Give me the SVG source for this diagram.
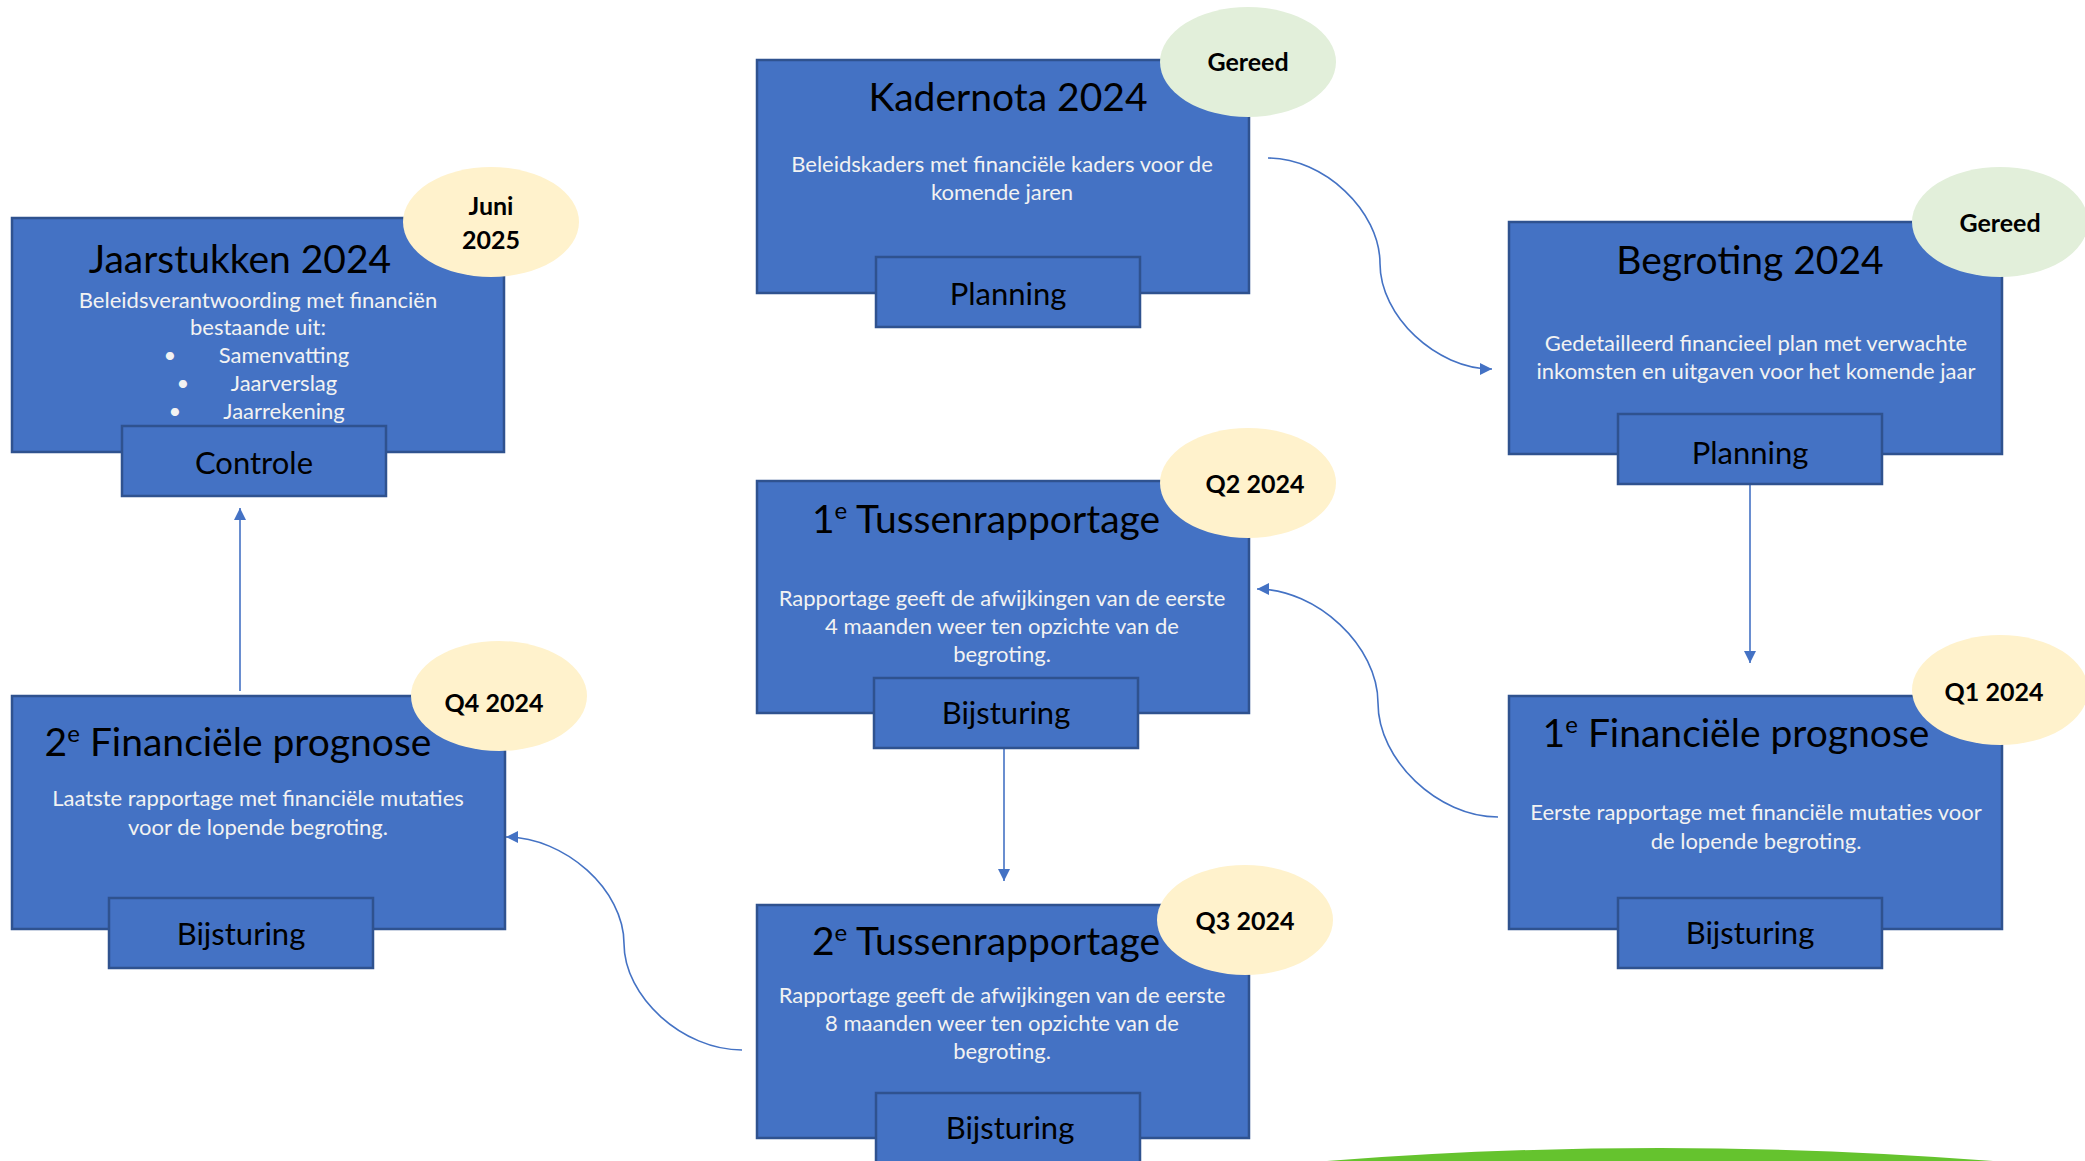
<svg xmlns="http://www.w3.org/2000/svg" width="2085" height="1161" viewBox="0 0 2085 1161">
<style>
.box{fill:#4472C4;stroke:#2F528F;stroke-width:2.5}
.sub{fill:#4472C4;stroke:#2F528F;stroke-width:2.5}
.green{fill:#E2EFDA}
.yellow{fill:#FFF2CC}
.title{font-family:Lato,"Liberation Sans",sans-serif;font-size:39px;fill:#000;text-anchor:middle}
.desc{font-family:Lato,"Liberation Sans",sans-serif;font-size:22px;fill:#F2F2F2;text-anchor:middle}
.lbl{font-family:Lato,"Liberation Sans",sans-serif;font-size:31px;fill:#000;text-anchor:middle}
.badge{font-family:Lato,"Liberation Sans",sans-serif;font-size:25px;font-weight:bold;fill:#000;text-anchor:middle}
.conn{fill:none;stroke:#4472C4;stroke-width:1.6}
</style>
<defs>
<marker id="arr" viewBox="0 0 10 10" refX="10" refY="5" markerWidth="12" markerHeight="12" markerUnits="userSpaceOnUse" orient="auto">
<path d="M0,0 L10,5 L0,10 z" fill="#4472C4"/>
</marker>
</defs>
<rect width="2085" height="1161" fill="#fff"/>

<g id="connectors">
<path class="conn" d="M1268,158 C1324,158 1380,211 1380,263.5 C1380,316 1436,369 1492,369" marker-end="url(#arr)"/>
<path class="conn" d="M1750,485 L1750,663" marker-end="url(#arr)"/>
<path class="conn" d="M1498,817 C1438,817 1378,760 1378,703 C1378,646 1317,589 1257,589" marker-end="url(#arr)"/>
<path class="conn" d="M1004,748 L1004,881" marker-end="url(#arr)"/>
<path class="conn" d="M742,1050 C683,1050 624,997 624,943.5 C624,890 565,837 506,837" marker-end="url(#arr)"/>
<path class="conn" d="M240,691 L240,508" marker-end="url(#arr)"/>
</g>

<g id="kadernota">
<rect class="box" x="757" y="60" width="492" height="233"/>
<text class="title" x="1008" y="111">Kadernota 2024</text>
<text class="desc" x="1002" y="172">Beleidskaders met financiële kaders voor de</text>
<text class="desc" x="1002" y="200">komende jaren</text>
<rect class="sub" x="876" y="257" width="264" height="70"/>
<text class="lbl" x="1008" y="305">Planning</text>
<ellipse class="green" cx="1248" cy="62" rx="88" ry="55"/>
<text class="badge" x="1248" y="71">Gereed</text>
</g>

<g id="begroting">
<rect class="box" x="1509" y="222" width="493" height="232"/>
<text class="title" x="1750" y="274">Begroting 2024</text>
<text class="desc" x="1756" y="351">Gedetailleerd financieel plan met verwachte</text>
<text class="desc" x="1756" y="379">inkomsten en uitgaven voor het komende jaar</text>
<rect class="sub" x="1618" y="414" width="264" height="70"/>
<text class="lbl" x="1750" y="464">Planning</text>
<ellipse class="green" cx="2000" cy="222" rx="88" ry="55"/>
<text class="badge" x="2000" y="232">Gereed</text>
</g>

<g id="jaarstukken">
<rect class="box" x="12" y="218" width="492" height="234"/>
<text class="title" x="240" y="273">Jaarstukken 2024</text>
<text class="desc" x="258" y="308">Beleidsverantwoording met financiën</text>
<text class="desc" x="258" y="335">bestaande uit:</text>
<text class="desc" x="170" y="363">•</text>
<text class="desc" x="284" y="363">Samenvatting</text>
<text class="desc" x="183" y="391">•</text>
<text class="desc" x="284" y="391">Jaarverslag</text>
<text class="desc" x="175" y="419">•</text>
<text class="desc" x="284" y="419">Jaarrekening</text>
<rect class="sub" x="122" y="426" width="264" height="70"/>
<text class="lbl" x="254" y="474">Controle</text>
<ellipse class="yellow" cx="491" cy="222" rx="88" ry="55"/>
<text class="badge" x="491" y="215">Juni</text>
<text class="badge" x="491" y="249">2025</text>
</g>

<g id="tussenrapportage1">
<rect class="box" x="757" y="481" width="492" height="232"/>
<text class="title" x="986" y="533">1<tspan font-size="24" dy="-14">e</tspan><tspan dy="14"> Tussenrapportage</tspan></text>
<text class="desc" x="1002" y="606">Rapportage geeft de afwijkingen van de eerste</text>
<text class="desc" x="1002" y="634">4 maanden weer ten opzichte van de</text>
<text class="desc" x="1002" y="662">begroting.</text>
<rect class="sub" x="874" y="678" width="264" height="70"/>
<text class="lbl" x="1006" y="724">Bijsturing</text>
<ellipse class="yellow" cx="1248" cy="483" rx="88" ry="55"/>
<text class="badge" x="1255" y="493">Q2 2024</text>
</g>

<g id="prognose2">
<rect class="box" x="12" y="696" width="493" height="233"/>
<text class="title" x="238" y="756">2<tspan font-size="24" dy="-14">e</tspan><tspan dy="14"> Financiële prognose</tspan></text>
<text class="desc" x="258" y="806">Laatste rapportage met financiële mutaties</text>
<text class="desc" x="258" y="835">voor de lopende begroting.</text>
<rect class="sub" x="109" y="898" width="264" height="70"/>
<text class="lbl" x="241" y="945">Bijsturing</text>
<ellipse class="yellow" cx="499" cy="696" rx="88" ry="55"/>
<text class="badge" x="494" y="712">Q4 2024</text>
</g>

<g id="prognose1">
<rect class="box" x="1509" y="696" width="493" height="233"/>
<text class="title" x="1736" y="747">1<tspan font-size="24" dy="-14">e</tspan><tspan dy="14"> Financiële prognose</tspan></text>
<text class="desc" x="1756" y="820">Eerste rapportage met financiële mutaties voor</text>
<text class="desc" x="1756" y="849">de lopende begroting.</text>
<rect class="sub" x="1618" y="898" width="264" height="70"/>
<text class="lbl" x="1750" y="944">Bijsturing</text>
<ellipse class="yellow" cx="2000" cy="690" rx="88" ry="55"/>
<text class="badge" x="1994" y="701">Q1 2024</text>
</g>

<g id="tussenrapportage2">
<rect class="box" x="757" y="905" width="492" height="233"/>
<text class="title" x="986" y="955">2<tspan font-size="24" dy="-14">e</tspan><tspan dy="14"> Tussenrapportage</tspan></text>
<text class="desc" x="1002" y="1003">Rapportage geeft de afwijkingen van de eerste</text>
<text class="desc" x="1002" y="1031">8 maanden weer ten opzichte van de</text>
<text class="desc" x="1002" y="1059">begroting.</text>
<rect class="sub" x="876" y="1093" width="264" height="72"/>
<text class="lbl" x="1010" y="1139">Bijsturing</text>
<ellipse class="yellow" cx="1245" cy="920" rx="88" ry="55"/>
<text class="badge" x="1245" y="930">Q3 2024</text>
</g>

<path d="M1327,1161 Q1660,1135 1993,1161 Z" fill="#65C32E"/>
</svg>
